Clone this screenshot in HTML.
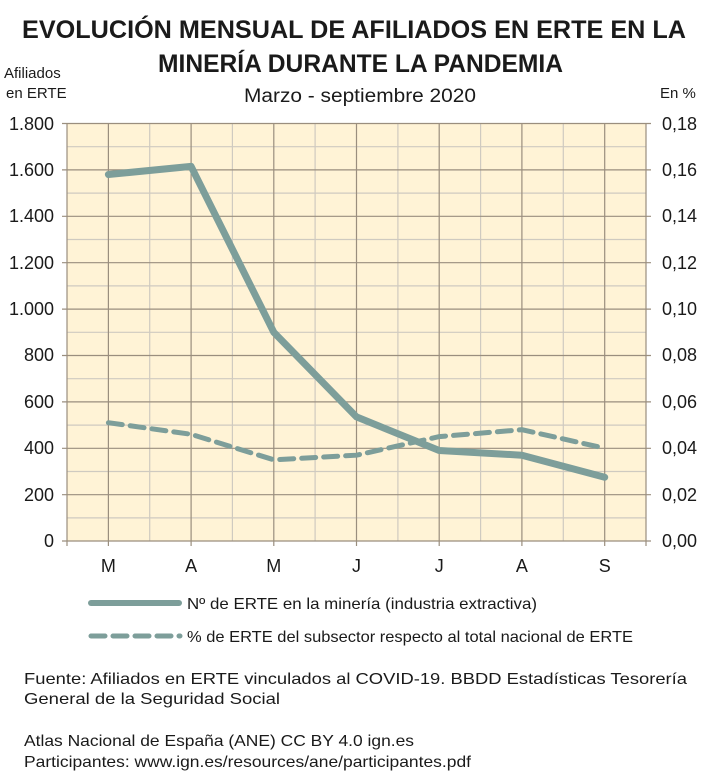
<!DOCTYPE html><html><head><meta charset="utf-8"><style>body{margin:0;background:#fff}svg text{font-family:"Liberation Sans",sans-serif;fill:#1a1a1a}</style></head><body>
<svg width="709" height="778" viewBox="0 0 709 778" xmlns="http://www.w3.org/2000/svg">
<text x="22" y="38" font-size="25" font-weight="bold" textLength="664" lengthAdjust="spacingAndGlyphs">EVOLUCIÓN MENSUAL DE AFILIADOS EN ERTE EN LA</text>
<text x="158" y="72" font-size="25" font-weight="bold" textLength="405" lengthAdjust="spacingAndGlyphs">MINERÍA DURANTE LA PANDEMIA</text>
<text x="244" y="102" font-size="19" textLength="232" lengthAdjust="spacingAndGlyphs">Marzo - septiembre 2020</text>
<text x="4" y="78" font-size="15">Afiliados</text>
<text x="6" y="98" font-size="15">en ERTE</text>
<text x="660" y="98" font-size="15">En %</text>
<rect x="67" y="123.5" width="579" height="417.5" fill="#fff3d6"/>
<g stroke="#cfcac0" stroke-width="1.2">
<line x1="67" x2="646" y1="146.7" y2="146.7"/><line x1="67" x2="646" y1="193.1" y2="193.1"/><line x1="67" x2="646" y1="239.5" y2="239.5"/><line x1="67" x2="646" y1="285.9" y2="285.9"/><line x1="67" x2="646" y1="332.3" y2="332.3"/><line x1="67" x2="646" y1="378.7" y2="378.7"/><line x1="67" x2="646" y1="425.1" y2="425.1"/><line x1="67" x2="646" y1="471.5" y2="471.5"/><line x1="67" x2="646" y1="517.9" y2="517.9"/>
<line y1="123.5" y2="541" x1="149.7" x2="149.7"/><line y1="123.5" y2="541" x1="232.4" x2="232.4"/><line y1="123.5" y2="541" x1="315.1" x2="315.1"/><line y1="123.5" y2="541" x1="397.9" x2="397.9"/><line y1="123.5" y2="541" x1="480.6" x2="480.6"/><line y1="123.5" y2="541" x1="563.3" x2="563.3"/>
</g>
<g stroke="#9a8e7e" stroke-width="1.2">
<line x1="62" x2="651" y1="123.5" y2="123.5"/><line x1="62" x2="651" y1="169.9" y2="169.9"/><line x1="62" x2="651" y1="216.3" y2="216.3"/><line x1="62" x2="651" y1="262.7" y2="262.7"/><line x1="62" x2="651" y1="309.1" y2="309.1"/><line x1="62" x2="651" y1="355.5" y2="355.5"/><line x1="62" x2="651" y1="401.9" y2="401.9"/><line x1="62" x2="651" y1="448.3" y2="448.3"/><line x1="62" x2="651" y1="494.7" y2="494.7"/><line x1="62" x2="651" y1="541" y2="541"/>
<line y1="123.5" y2="546" x1="67" x2="67"/><line y1="123.5" y2="546" x1="646" x2="646"/>
<line y1="123.5" y2="546" x1="108.4" x2="108.4"/><line y1="123.5" y2="546" x1="191.1" x2="191.1"/><line y1="123.5" y2="546" x1="273.8" x2="273.8"/><line y1="123.5" y2="546" x1="356.5" x2="356.5"/><line y1="123.5" y2="546" x1="439.2" x2="439.2"/><line y1="123.5" y2="546" x1="521.9" x2="521.9"/><line y1="123.5" y2="546" x1="604.7" x2="604.7"/>
</g>
<g font-size="18" text-anchor="end">
<text x="54" y="130">1.800</text><text x="54" y="176">1.600</text><text x="54" y="222">1.400</text><text x="54" y="269">1.200</text><text x="54" y="315">1.000</text><text x="54" y="361">800</text><text x="54" y="408">600</text><text x="54" y="454">400</text><text x="54" y="501">200</text><text x="54" y="547">0</text>
</g>
<g font-size="18">
<text x="662" y="130">0,18</text><text x="662" y="176">0,16</text><text x="662" y="222">0,14</text><text x="662" y="269">0,12</text><text x="662" y="315">0,10</text><text x="662" y="361">0,08</text><text x="662" y="408">0,06</text><text x="662" y="454">0,04</text><text x="662" y="501">0,02</text><text x="662" y="547">0,00</text>
</g>
<g font-size="18" text-anchor="middle">
<text x="108.4" y="572">M</text><text x="191.1" y="572">A</text><text x="273.8" y="572">M</text><text x="356.5" y="572">J</text><text x="439.2" y="572">J</text><text x="521.9" y="572">A</text><text x="604.7" y="572">S</text>
</g>
<polyline points="108.4,422.7 191.1,434.3 273.8,459.8 356.5,455.2 439.2,436.6 521.9,429.7 604.7,448.2" fill="none" stroke="#7d9e9a" stroke-width="5" stroke-dasharray="14,8" stroke-linecap="round"/>
<polyline points="108.4,174.5 191.1,166.4 273.8,332.3 356.5,416.9 439.2,450.5 521.9,455.2 604.7,477.2" fill="none" stroke="#7d9e9a" stroke-width="7" stroke-linecap="round" stroke-linejoin="round"/>
<line x1="91" x2="179" y1="603" y2="603" stroke="#7d9e9a" stroke-width="6" stroke-linecap="round"/>
<line x1="91" x2="180" y1="636" y2="636" stroke="#7d9e9a" stroke-width="5" stroke-dasharray="14,8" stroke-linecap="round"/>
<text x="187" y="609" font-size="16" textLength="350" lengthAdjust="spacingAndGlyphs">Nº de ERTE en la minería (industria extractiva)</text>
<text x="187" y="642" font-size="16" textLength="446" lengthAdjust="spacingAndGlyphs">% de ERTE del subsector respecto al total nacional de ERTE</text>
<g font-size="16">
<text x="24" y="684" textLength="663" lengthAdjust="spacingAndGlyphs">Fuente: Afiliados en ERTE vinculados al COVID-19. BBDD Estadísticas Tesorería</text>
<text x="24" y="704" textLength="256" lengthAdjust="spacingAndGlyphs">General de la Seguridad Social</text>
<text x="24" y="746" textLength="390" lengthAdjust="spacingAndGlyphs">Atlas Nacional de España (ANE) CC BY 4.0 ign.es</text>
<text x="24" y="767" textLength="447" lengthAdjust="spacingAndGlyphs">Participantes: www.ign.es/resources/ane/participantes.pdf</text>
</g>
</svg></body></html>
